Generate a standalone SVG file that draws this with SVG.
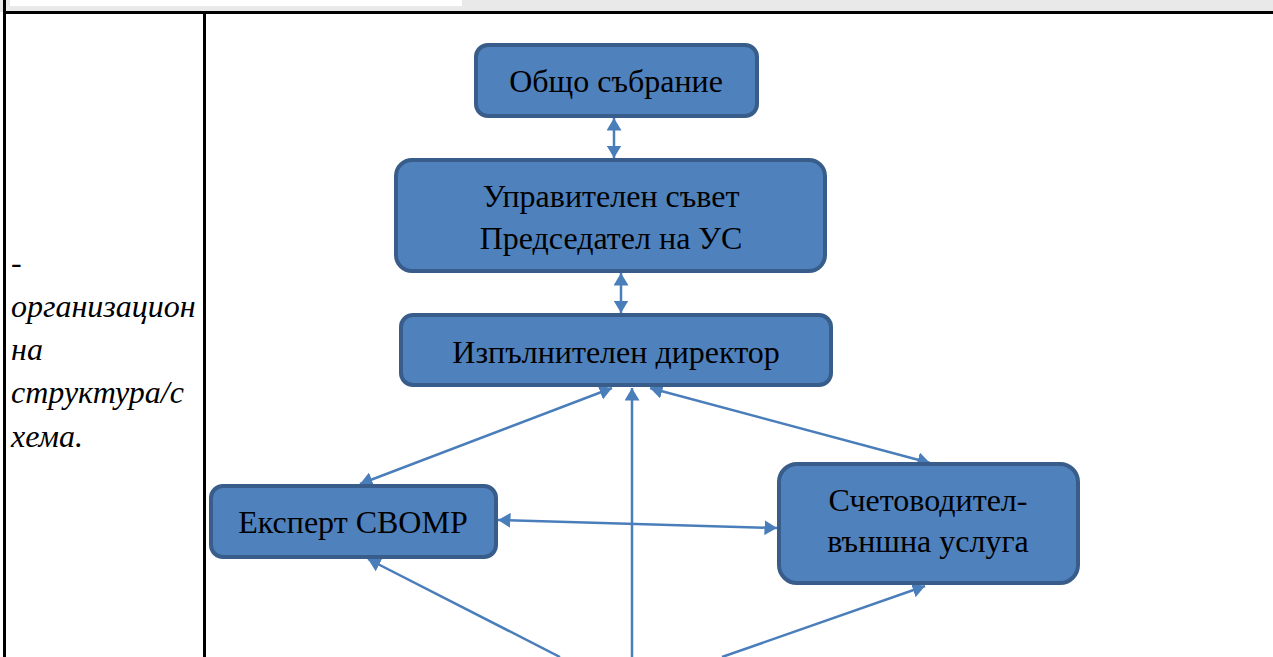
<svg xmlns="http://www.w3.org/2000/svg" width="1273" height="657" viewBox="0 0 1273 657">
<style>
.node rect{fill:#4f81bd;stroke:#385d8a;stroke-width:4}
.node text{font-family:"Liberation Serif","Times New Roman",serif;font-size:32px;fill:#000;text-anchor:middle}
.conn line{stroke:#4a7ebb;stroke-width:2.5;fill:none}
.side{font-family:"Liberation Serif","Times New Roman",serif;font-style:italic;font-size:32px;fill:#000}
</style>
<defs>
<marker id="ah" viewBox="0 0 10 12" refX="10" refY="6" markerWidth="5" markerHeight="6" orient="auto-start-reverse" markerUnits="strokeWidth">
<path d="M0,0 L10,6 L0,12 z" fill="#4a7ebb"/>
</marker>
</defs>
<rect x="0" y="0" width="1273" height="12" fill="#e8e9e8"/>
<rect x="10" y="0" width="452" height="6" fill="#fff"/>
<rect x="0" y="12" width="1273" height="645" fill="#fff"/>
<line x1="3" y1="12.5" x2="1273" y2="12.5" stroke="#000" stroke-width="3"/>
<line x1="4.5" y1="0" x2="4.5" y2="657" stroke="#000" stroke-width="3"/>
<line x1="204.5" y1="12" x2="204.5" y2="657" stroke="#000" stroke-width="3"/>
<g id="side-label">
<text class="side" x="11" y="273" font-style="normal">-</text>
<text class="side" x="11" y="317">организацион</text>
<text class="side" x="11" y="360">на</text>
<text class="side" x="11" y="403">структура/с</text>
<text class="side" x="11" y="447">хема.</text>
</g>
<g class="conn" id="connectors">
<line x1="614" y1="118" x2="614" y2="158" marker-start="url(#ah)" marker-end="url(#ah)"/>
<line x1="621" y1="273" x2="621" y2="313" marker-start="url(#ah)" marker-end="url(#ah)"/>
<line x1="612" y1="388" x2="360" y2="484" marker-start="url(#ah)" marker-end="url(#ah)"/>
<line x1="650" y1="388" x2="930" y2="463" marker-start="url(#ah)" marker-end="url(#ah)"/>
<line x1="632" y1="657" x2="632" y2="388" marker-end="url(#ah)"/>
<line x1="498" y1="520" x2="777" y2="528" marker-start="url(#ah)" marker-end="url(#ah)"/>
<line x1="560" y1="657" x2="368" y2="559" marker-end="url(#ah)"/>
<line x1="722" y1="657" x2="925" y2="586" marker-end="url(#ah)"/>
</g>
<g class="node" id="n-obshto">
<rect x="476" y="45" width="281" height="71" rx="12"/>
<text x="616" y="92">Общо събрание</text>
</g>
<g class="node" id="n-us">
<rect x="396" y="160" width="429" height="111" rx="16"/>
<text x="611" y="207">Управителен съвет</text>
<text x="611" y="249">Председател на УС</text>
</g>
<g class="node" id="n-director">
<rect x="401" y="315" width="430" height="70" rx="12"/>
<text x="616" y="363">Изпълнителен директор</text>
</g>
<g class="node" id="n-expert">
<rect x="211" y="486" width="285" height="71" rx="12"/>
<text x="353" y="533">Експерт СВОМР</text>
</g>
<g class="node" id="n-account">
<rect x="779" y="464" width="299" height="119" rx="18"/>
<text x="928" y="511">Счетоводител-</text>
<text x="928" y="552">външна услуга</text>
</g>
</svg>
